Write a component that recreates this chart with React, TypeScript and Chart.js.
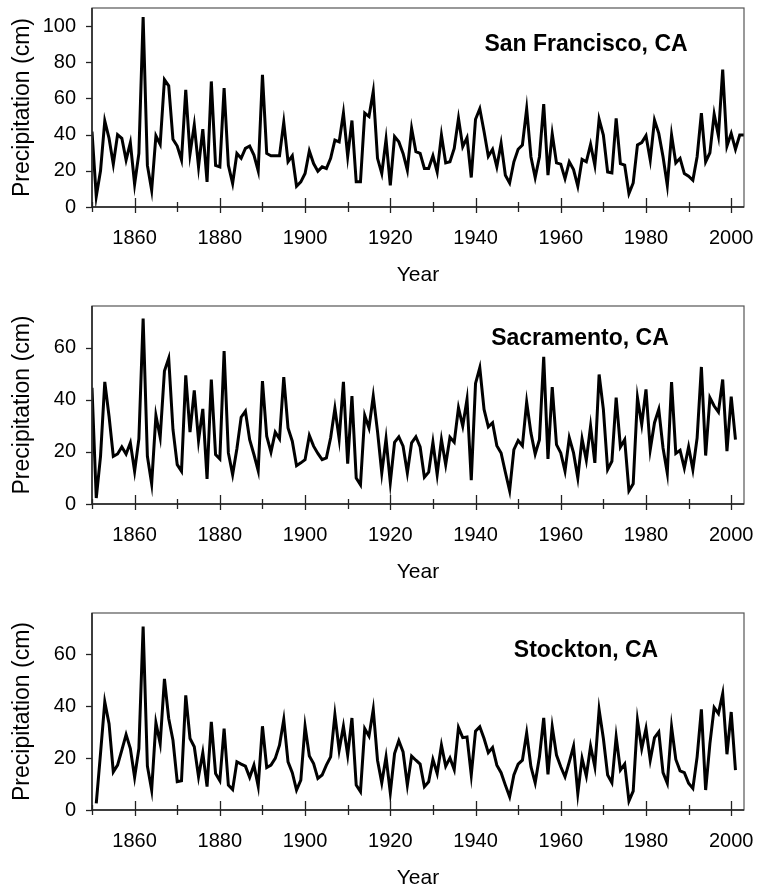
import React, { useEffect, useRef } from "react";
import { Chart, registerables } from "chart.js";

Chart.register(...registerables);

const FONT = "'Liberation Sans', Arial, Helvetica, sans-serif";

// Annual precipitation (cm)
const SF_START = 1850;
const SF_VALUES = [
  41.7, 5.9, 20, 47.6, 38, 23.7, 40, 38, 26, 35.5,
  12.6, 29.6, 105, 23, 9.3, 39.4, 34.6, 70.4, 67, 37.4,
  33.7, 26, 64.8, 29.3, 45.4, 22.2, 43, 13.9, 69.4, 23,
  22.2, 65.7, 23, 13, 29.6, 26.9, 32.4, 33.7, 28.7, 20,
  73, 29.6, 28.3, 28.3, 28.3, 46.8, 25, 28.3, 11.5, 13.9,
  18.5, 31, 24, 19.8, 22.2, 21.3, 26.9, 37, 36, 51.9,
  28, 47.8, 13.9, 13.9, 51.9, 50, 63.9, 26.9, 18.5, 37.4,
  12, 38.9, 36, 29.6, 20.4, 43.5, 30.6, 29.6, 21.3, 21.3,
  28.3, 19.4, 39.8, 24.4, 25, 32.4, 49, 33.3, 38.3, 16.3,
  48.5, 54.3, 41.7, 28, 31.9, 22.2, 35.2, 17.6, 13.3, 25,
  31.9, 34.3, 54.3, 27.8, 16.3, 27.8, 56.9, 17.6, 40.4, 24.4,
  23.7, 15.7, 25, 20.7, 11.5, 26.3, 25, 34.6, 23.1, 48.5,
  39.8, 19.4, 18.9, 49, 24, 23.1, 7.4, 13.3, 34.3, 35.6,
  39.4, 26, 48, 40.7, 27.8, 12, 39.8, 24.4, 26.9, 18.5,
  17, 14.8, 27.8, 51.9, 25, 30, 51.3, 39.3, 75.9, 33.7,
  40.7, 31.9, 39.8, 39.8,
];

const SAC_START = 1850;
const SAC_VALUES = [
  44.6, 2.3, 18.3, 46.9, 33.7, 18.3, 19.2, 21.9, 19.2, 23.5,
  12.6, 25, 71.2, 18.3, 7.8, 34, 25.6, 51, 55.9, 28.6,
  15.1, 12.6, 49.4, 27.6, 43.6, 24.4, 36.5, 9.6, 47.8, 19,
  17.3, 58.7, 19.6, 11.3, 21.2, 33.3, 35.6, 24.7, 19, 12.8,
  47.2, 26, 19.9, 27.6, 25, 48.7, 29.2, 24.1, 14.7, 15.8,
  17, 26.3, 22.2, 19.4, 17, 17.7, 25.4, 36.7, 25, 46.9,
  15.5, 41.4, 10, 7.4, 34, 29.2, 41.4, 27.9, 11.9, 25,
  8.3, 23.7, 25.8, 22.2, 11.9, 23.5, 25.8, 21.9, 10.3, 12.2,
  23.7, 11.3, 24.7, 15.1, 25.6, 23.7, 36.9, 29.9, 40.1, 9.1,
  46.3, 52.3, 36.3, 29.6, 31.2, 22.4, 19.6, 12.2, 5.1, 20.9,
  24.4, 22.4, 39.1, 27.3, 19.2, 24.7, 56.5, 17.3, 44.9, 22.8,
  19.6, 12.6, 25.4, 19.6, 10, 25, 16.8, 29.9, 15.8, 49.7,
  36.3, 13.2, 16.4, 40.8, 21.9, 24.7, 5.1, 7.8, 40.8, 30.5,
  44, 20.9, 31.2, 36.3, 21.5, 11.9, 46.8, 19.4, 20.6, 13.8,
  21.9, 13.2, 25.4, 52.6, 18.6, 40.8, 37.6, 35.3, 47.8, 20.3,
  41.2, 24.7,
];

const STK_START = 1851;
const STK_VALUES = [
  2.6, 21.8, 41.7, 33.3, 14.7, 17.3, 23.1, 29.1, 23.7,
  12.6, 23.7, 70.8, 16.9, 7.7, 33.6, 25.6, 50.6, 35.3, 26.9,
  10.9, 11.3, 44.2, 27.6, 24.4, 12.8, 22.1, 9, 34, 14.1,
  11.3, 31.4, 9.6, 7.9, 18.6, 17.7, 16.9, 12.6, 17.3, 9.2,
  32.3, 16.4, 17.3, 19.9, 25, 34.9, 18.6, 14.4, 7.7, 11.5,
  32.3, 20.8, 17.9, 12.2, 13.5, 17.3, 20.5, 36.8, 23.1, 32.3,
  21.2, 35.5, 9.6, 7.1, 31.4, 28.5, 38.8, 19.2, 10.5, 20.5,
  6.7, 21.8, 26.7, 22.4, 9.6, 20.8, 19.2, 17.7, 9, 10.9,
  19.5, 14.1, 25, 16.9, 20.1, 15.6, 31.8, 27.9, 28.2, 13.5,
  30.4, 32.1, 27.6, 22.1, 24.1, 17.3, 14.4, 9.6, 5.1, 13.5,
  17.7, 19.2, 29.7, 16.7, 10.5, 20.5, 35.5, 13.7, 32.1, 21.2,
  16.7, 12.8, 18.6, 24.6, 6.4, 19.9, 13.1, 24.6, 16.7, 38.7,
  27.6, 13.5, 10.5, 28.2, 15.4, 17.7, 3.5, 7.3, 34.6, 23.7,
  31.4, 19.2, 27.9, 30.1, 14.4, 10.3, 32.1, 19.5, 15.1, 14.4,
  10.3, 8.3, 20.5, 38.8, 7.7, 25.6, 39.5, 37.2, 44.9, 21.5,
  37.8, 15.4,
];

const X_MIN = 1850;
const X_MAX = 2003;
const X_STEP = 10;
const X_LABEL_YEARS = [1860, 1880, 1900, 1920, 1940, 1960, 1980, 2000];
const Y_STEP = 20;
const Y_MAX_SF = 110;
const Y_MAX_SAC = 76;
const Y_MAX_STK = 76;
const X_TITLE = "Year";
const Y_TITLE = "Precipitation (cm)";

type PanelCfg = {
  title: string;
  start: number;
  values: number[];
  yMax: number;
  top: number;
  height: number;
  padTop: number;
  xAxisH: number;
  titleX: number;
  titleDy: number;
};

const PANELS: PanelCfg[] = [
  { title: "San Francisco, CA", start: SF_START, values: SF_VALUES, yMax: Y_MAX_SF, top: 0, height: 297, padTop: 8, xAxisH: 90, titleX: 586, titleDy: 37 },
  { title: "Sacramento, CA", start: SAC_START, values: SAC_VALUES, yMax: Y_MAX_SAC, top: 297, height: 297, padTop: 9, xAxisH: 90, titleX: 580, titleDy: 33 },
  { title: "Stockton, CA", start: STK_START, values: STK_VALUES, yMax: Y_MAX_STK, top: 594, height: 297, padTop: 19, xAxisH: 81, titleX: 586, titleDy: 38 },
];

const W = 758;
const Y_AXIS_W = 92;
const PAD_RIGHT = 14;

function Panel({ cfg }: { cfg: PanelCfg }) {
  const ref = useRef<HTMLCanvasElement | null>(null);
  useEffect(() => {
    if (!ref.current) return;
    const pts = cfg.values.map((v, i) => ({ x: cfg.start + i, y: v }));

    const deco = {
      id: "deco",
      afterDraw(chart: any) {
        const ctx = chart.ctx;
        const a = chart.chartArea;
        const xs = chart.scales.x;
        const ys = chart.scales.y;
        ctx.save();
        // frame
        ctx.strokeStyle = "#555";
        ctx.lineWidth = 1.2;
        ctx.strokeRect(a.left, a.top, a.right - a.left, a.bottom - a.top);
        // axis lines (darker)
        ctx.strokeStyle = "#222";
        ctx.lineWidth = 1.5;
        ctx.beginPath();
        ctx.moveTo(a.left, a.top);
        ctx.lineTo(a.left, a.bottom);
        ctx.lineTo(a.right, a.bottom);
        ctx.stroke();
        // x ticks (crossing the axis)
        ctx.lineWidth = 1.3;
        for (const t of xs.ticks) {
          const v = t.value;
          const px = Math.round(xs.getPixelForValue(v)) + 0.5;
          const major = X_LABEL_YEARS.includes(v);
          ctx.beginPath();
          ctx.moveTo(px, a.bottom - (major ? 9 : 5));
          ctx.lineTo(px, a.bottom + (major ? 6 : 5));
          ctx.stroke();
        }
        // y ticks (outside)
        for (const t of ys.ticks) {
          const py = Math.round(ys.getPixelForValue(t.value)) + 0.5;
          ctx.beginPath();
          ctx.moveTo(a.left - 6, py);
          ctx.lineTo(a.left, py);
          ctx.stroke();
        }
        // x title
        ctx.fillStyle = "#000";
        ctx.textAlign = "center";
        ctx.textBaseline = "middle";
        ctx.font = `21px ${FONT}`;
        ctx.fillText(X_TITLE, (a.left + a.right) / 2, a.bottom + 68);
        // y title
        ctx.save();
        ctx.translate(23, (a.top + a.bottom) / 2);
        ctx.rotate(-Math.PI / 2);
        ctx.font = `23px ${FONT}`;
        ctx.fillText(Y_TITLE, 0, 0);
        ctx.restore();
        // panel title
        ctx.font = `bold 23px ${FONT}`;
        ctx.fillText(cfg.title, cfg.titleX, a.top + cfg.titleDy);
        ctx.restore();
      },
    };

    const chart = new Chart(ref.current, {
      type: "line",
      data: {
        datasets: [
          {
            data: pts,
            borderColor: "#000",
            borderWidth: 3,
            pointRadius: 0,
            tension: 0,
            fill: false,
          },
        ],
      },
      options: {
        animation: false,
        responsive: false,
        maintainAspectRatio: false,
        events: [],
        layout: { padding: { top: cfg.padTop, right: PAD_RIGHT, left: 0, bottom: 0 } },
        plugins: { legend: { display: false }, tooltip: { enabled: false }, title: { display: false } },
        scales: {
          x: {
            type: "linear",
            min: X_MIN,
            max: X_MAX,
            grid: { display: false, drawTicks: false },
            border: { display: false },
            ticks: {
              stepSize: X_STEP,
              includeBounds: false,
              autoSkip: false,
              maxRotation: 0,
              minRotation: 0,
              padding: 19,
              color: "#000",
              font: { family: FONT, size: 20 },
              callback: (v: any) => (X_LABEL_YEARS.includes(Number(v)) ? String(v) : ""),
            },
            afterFit: (s: any) => {
              s.height = cfg.xAxisH;
              s.paddingLeft = 0;
              s.paddingRight = 0;
            },
          },
          y: {
            type: "linear",
            min: 0,
            max: cfg.yMax,
            grid: { display: false, drawTicks: false },
            border: { display: false },
            ticks: {
              stepSize: Y_STEP,
              includeBounds: false,
              padding: 16,
              color: "#000",
              font: { family: FONT, size: 20 },
              callback: (v: any) => String(v),
            },
            afterFit: (s: any) => {
              s.width = Y_AXIS_W;
              s.paddingTop = 0;
              s.paddingBottom = 0;
            },
          },
        },
      },
      plugins: [deco],
    } as any);
    return () => chart.destroy();
  }, [cfg]);

  return (
    <div style={{ position: "absolute", left: 0, top: cfg.top, width: W, height: cfg.height }}>
      <canvas ref={ref} width={W} height={cfg.height} style={{ width: W, height: cfg.height, display: "block" }} />
    </div>
  );
}

export default function App() {
  return (
    <div style={{ position: "absolute", left: 0, top: 0, width: W, height: 891, overflow: "hidden", background: "#fff" }}>
      {PANELS.map((p) => (
        <Panel key={p.title} cfg={p} />
      ))}
    </div>
  );
}
